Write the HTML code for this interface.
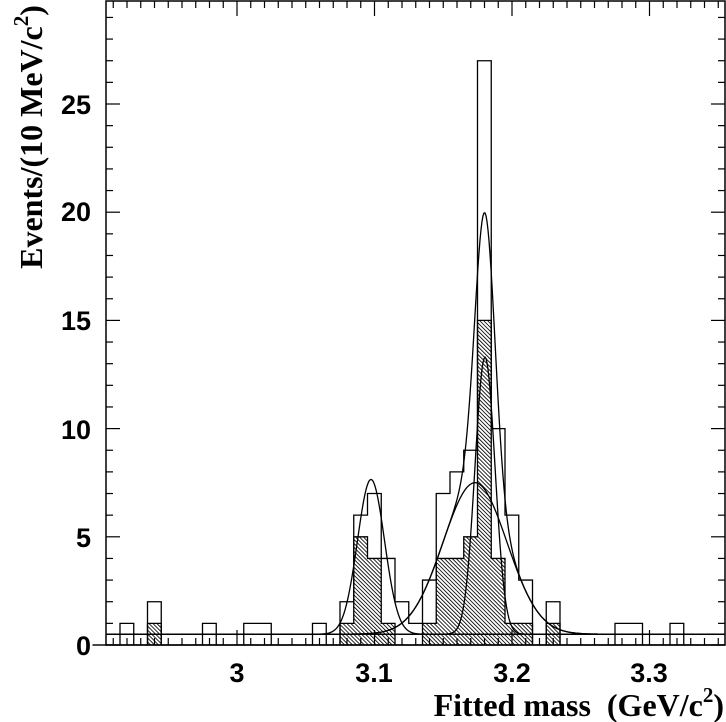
<!DOCTYPE html>
<html><head><meta charset="utf-8"><style>
html,body{margin:0;padding:0;background:#fff;}
svg{display:block;}
.t{font-family:"Liberation Sans",sans-serif;font-weight:bold;font-size:27px;}
.s{font-family:"Liberation Serif",serif;font-weight:bold;font-size:32px;}
</style></head><body>
<svg id="c" width="726" height="722" viewBox="0 0 726 722" xmlns="http://www.w3.org/2000/svg">
<defs>
<pattern id="h" width="2.8" height="2.8" patternUnits="userSpaceOnUse" patternTransform="rotate(-45)">
<line x1="0" y1="0" x2="0" y2="2.8" stroke="#000" stroke-width="1.7"/>
</pattern>
</defs>
<g id="hist" fill="none" stroke="#000" stroke-width="1.3"></g>
<g id="curves" fill="none" stroke="#000" stroke-width="1.3"></g>
<rect x="106" y="1" width="619" height="644" fill="none" stroke="#000" stroke-width="1.5"/>
<g id="ticks" stroke="#000" stroke-width="1.2"></g>
<g class="t" text-anchor="end">
<text x="91" y="655">0</text>
<text x="91" y="547">5</text>
<text x="91" y="439">10</text>
<text x="91" y="330">15</text>
<text x="91" y="221">20</text>
<text x="91" y="114">25</text>
</g>
<g class="t" text-anchor="middle">
<text x="237" y="682">3</text>
<text x="374" y="682">3.1</text>
<text x="512" y="682">3.2</text>
<text x="649" y="682">3.3</text>
</g>
<text class="s" x="724" y="716" text-anchor="end" xml:space="preserve">Fitted mass  (GeV/c<tspan font-size="21" dy="-14">2</tspan><tspan dy="14">)</tspan></text>
<text class="s" transform="translate(42,137) rotate(-90)" text-anchor="middle">Events/(10 MeV/c<tspan font-size="21" dy="-14">2</tspan><tspan dy="14">)</tspan></text>
</svg>
<script>
var NS="http://www.w3.org/2000/svg";
function Y(v){return 645-21.64*v;}
function X(k){return 340+13.75*k;}
function el(p,t,a){var e=document.createElementNS(NS,t);for(var k in a)e.setAttribute(k,a[k]);p.appendChild(e);return e;}
var outer={"-16":1,"-14":2,"-10":1,"-7":1,"-6":1,"-2":1,0:2,1:6,2:7,3:4,4:2,5:1,6:3,7:7,8:8,9:9,10:27,11:10,12:6,13:3,15:2,20:1,21:1,24:1};
var hat={"-14":1,0:1,1:5,2:4,3:1,6:1,7:4,8:4,9:5,10:15,11:4,12:1,13:1,15:1};
function steps(h){var d="M"+X(-18)+","+Y(0);for(var k=-18;k<=27;k++){var v=h[k]||0;d+="L"+X(k)+","+Y(v)+"L"+X(k+1)+","+Y(v);}d+="L"+X(28)+","+Y(0)+"Z";return d;}
var hg=document.getElementById("hist");
el(hg,"path",{d:steps(hat),fill:"url(#h)"});
el(hg,"path",{d:steps(outer)});
var bg=0.5;
function g(x,m,s,a){return a*Math.exp(-(x-m)*(x-m)/(2*s*s));}
var cg=document.getElementById("curves");
function curve(f){var d="";for(var x=106;x<=725;x+=1){d+=(x==106?"M":"L")+x+","+Y(f(x)).toFixed(2);}el(cg,"path",{d:d});}
curve(function(x){return bg;});
curve(function(x){return bg+g(x,371,13.5,7.15);});
curve(function(x){return bg+g(x,475,32,7.0);});
curve(function(x){return bg+g(x,485,10,12.8);});
curve(function(x){return bg+g(x,475,32,7.0)+g(x,485,10,12.8);});
var tg=document.getElementById("ticks");
for(var v=0;v<=29;v++){var L=(v%5==0)?14:7;el(tg,"line",{x1:106,y1:Y(v),x2:106+L,y2:Y(v)});el(tg,"line",{x1:725,y1:Y(v),x2:725-L,y2:Y(v)});}
for(var i=-13;i<=35;i++){var x=237+13.75*i;if(x<106||x>725)continue;var L=(i%10==0)?15:7;el(tg,"line",{x1:x,y1:645,x2:x,y2:645-L});el(tg,"line",{x1:x,y1:1,x2:x,y2:1+L});}
</script>
</body></html>
